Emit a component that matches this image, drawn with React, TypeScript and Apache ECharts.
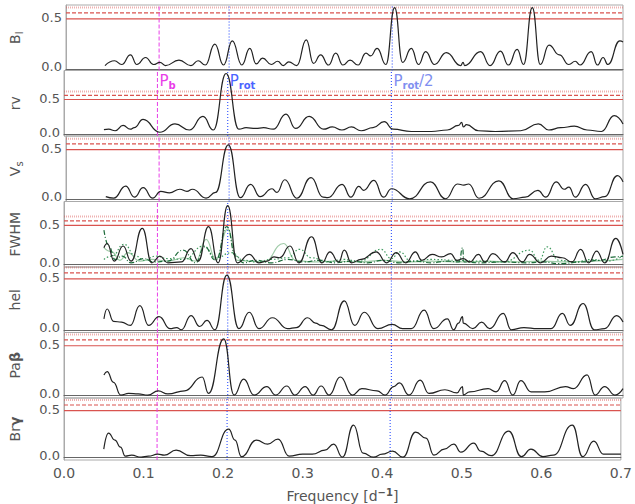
import React, { useEffect, useRef } from "react";
import * as echarts from "echarts";

// ---------- data ----------
const X_MIN = 0;
const X_MAX = 0.7;
const X_STEP = 0.1;
const Y_TICKS = [0, 0.5];
const FAP_LEVELS = [0.465, 0.52, 0.57]; // solid, dashed, dotted
const P_B = 0.117;
const P_ROT = 0.205;
const P_ROT_HALF = 0.41;

const PANEL_NAMES = ["{t|B}{sub|l}", "{t|rv}", "{t|V}{sub|s}", "{t|FWHM}", "{t|hel}", "{t|Pa}{b|β}", "{t|Br}{b|γ}"];
const PANEL_YMIN = [-0.016, -0.02, -0.026, -0.03, -0.025, -0.028, -0.028];
const PANEL_YMAX = [0.594, 0.85, 0.595, 0.75, 0.574, 0.59, 0.59];

const blPower = [
  [0.049, 0.03], [0.061, 0.075], [0.07, 0.04], [0.081, 0.13], [0.089, 0.04], [0.1, 0.105], [0.11, 0.04],
  [0.118, 0.06], [0.125, 0.03], [0.142, 0.08], [0.157, 0.03], [0.166, 0.075], [0.175, 0.035], [0.187, 0.23],
  [0.198, 0.035], [0.209, 0.26], [0.221, 0.035], [0.231, 0.19], [0.239, 0.045], [0.247, 0.1], [0.258, 0.04],
  [0.266, 0.07], [0.273, 0.03], [0.28, 0.065], [0.29, 0.03], [0.302, 0.27], [0.311, 0.05], [0.32, 0.13],
  [0.33, 0.035], [0.339, 0.145], [0.348, 0.035], [0.357, 0.08], [0.367, 0.035], [0.377, 0.145], [0.383, 0.12],
  [0.391, 0.19], [0.402, 0.04], [0.413, 0.57], [0.423, 0.06], [0.434, 0.19], [0.443, 0.04], [0.452, 0.16],
  [0.463, 0.04], [0.478, 0.15], [0.496, 0.03], [0.499, 0.06], [0.501, 0.03], [0.521, 0.16], [0.533, 0.03],
  [0.546, 0.165], [0.556, 0.035], [0.567, 0.18], [0.575, 0.04], [0.586, 0.57], [0.596, 0.04], [0.607, 0.22],
  [0.62, 0.13], [0.632, 0.04], [0.64, 0.07], [0.646, 0.035], [0.66, 0.16], [0.668, 0.035], [0.675, 0.105],
  [0.681, 0.04], [0.696, 0.26], [0.7, 0.25],
];

const rvPower = [
  [0.05, 0.064], [0.056, 0.07], [0.064, 0.05], [0.074, 0.12], [0.083, 0.07], [0.088, 0.09], [0.099, 0.2],
  [0.12, 0.03], [0.139, 0.14], [0.157, 0.06], [0.174, 0.24], [0.187, 0.06], [0.203, 0.81], [0.219, 0.07],
  [0.228, 0.09], [0.24, 0.08], [0.25, 0.09], [0.262, 0.07], [0.278, 0.27], [0.29, 0.08], [0.307, 0.24],
  [0.325, 0.07], [0.336, 0.1], [0.348, 0.06], [0.36, 0.1], [0.372, 0.05], [0.387, 0.09], [0.401, 0.17],
  [0.412, 0.07], [0.435, 0.04], [0.46, 0.04], [0.48, 0.06], [0.494, 0.12], [0.498, 0.16], [0.5, 0.1],
  [0.504, 0.13], [0.519, 0.05], [0.54, 0.04], [0.572, 0.05], [0.594, 0.14], [0.607, 0.06], [0.622, 0.09],
  [0.639, 0.11], [0.655, 0.06], [0.673, 0.04], [0.689, 0.25], [0.7, 0.14],
];

const vsPower = [
  [0.05, 0.02], [0.06, 0.006], [0.075, 0.12], [0.086, 0.015], [0.097, 0.105], [0.109, 0.006], [0.119, 0.07],
  [0.13, 0.055], [0.143, 0.09], [0.152, 0.07], [0.159, 0.09], [0.176, 0.006], [0.188, 0.06], [0.204, 0.51],
  [0.219, 0.01], [0.232, 0.137], [0.244, 0.02], [0.259, 0.095], [0.265, 0.06], [0.275, 0.18], [0.29, 0.005],
  [0.308, 0.2], [0.323, 0.015], [0.329, 0.01], [0.347, 0.137], [0.358, 0.015], [0.368, 0.118], [0.374, 0.08],
  [0.387, 0.175], [0.399, 0.015], [0.409, 0.095], [0.432, 0.0], [0.458, 0.16], [0.477, 0.0], [0.492, 0.14],
  [0.5, 0.13], [0.506, 0.14], [0.519, 0.005], [0.544, 0.17], [0.562, 0.0], [0.577, 0.015], [0.593, 0.08],
  [0.603, 0.015], [0.616, 0.16], [0.626, 0.09], [0.632, 0.11], [0.64, 0.015], [0.653, 0.137], [0.665, 0.0],
  [0.677, 0.02], [0.693, 0.22], [0.7, 0.16],
];

const fwhmPower = [
  [0.05, 0.2], [0.054, 0.25], [0.063, 0.04], [0.074, 0.22], [0.084, 0.04], [0.098, 0.43], [0.11, 0.02],
  [0.12, 0.1], [0.13, 0.02], [0.147, 0.03], [0.159, 0.19], [0.168, 0.04], [0.181, 0.45], [0.193, 0.02],
  [0.205, 0.7], [0.217, 0.02], [0.232, 0.12], [0.244, 0.02], [0.254, 0.04], [0.263, 0.09], [0.27, 0.08],
  [0.283, 0.22], [0.294, 0.02], [0.31, 0.33], [0.323, 0.02], [0.333, 0.15], [0.344, 0.03], [0.351, 0.17],
  [0.36, 0.02], [0.372, 0.06], [0.391, 0.15], [0.404, 0.02], [0.416, 0.14], [0.428, 0.02], [0.44, 0.15],
  [0.448, 0.05], [0.461, 0.12], [0.473, 0.09], [0.484, 0.13], [0.492, 0.05], [0.5, 0.07], [0.508, 0.03],
  [0.519, 0.12], [0.527, 0.03], [0.537, 0.13], [0.552, 0.03], [0.562, 0.14], [0.574, 0.03], [0.583, 0.12],
  [0.597, 0.02], [0.61, 0.1], [0.624, 0.08], [0.636, 0.03], [0.647, 0.18], [0.657, 0.02], [0.667, 0.16],
  [0.677, 0.02], [0.691, 0.31], [0.7, 0.12],
];

const fwhmGreenDashed = [
  [0.05, 0.41], [0.056, 0.22], [0.064, 0.06], [0.073, 0.1], [0.084, 0.02], [0.1, 0.07], [0.112, 0.03],
  [0.13, 0.04], [0.149, 0.17], [0.165, 0.02], [0.176, 0.21], [0.19, 0.05], [0.204, 0.45], [0.215, 0.1],
  [0.225, 0.02], [0.24, 0.05], [0.26, 0.02], [0.28, 0.06], [0.3, 0.03], [0.32, 0.05], [0.34, 0.02],
  [0.36, 0.04], [0.38, 0.02], [0.4, 0.05], [0.42, 0.02], [0.44, 0.04], [0.46, 0.02], [0.48, 0.04],
  [0.495, 0.03], [0.499, 0.2], [0.501, 0.03], [0.52, 0.02], [0.55, 0.03], [0.58, 0.02], [0.6, 0.03],
  [0.62, 0.01], [0.65, 0.03], [0.67, 0.05], [0.69, 0.09], [0.7, 0.1],
];

const fwhmGreenDotted = [
  [0.05, 0.06], [0.06, 0.1], [0.075, 0.24], [0.09, 0.1], [0.1, 0.05], [0.115, 0.1], [0.13, 0.07],
  [0.15, 0.06], [0.175, 0.22], [0.19, 0.08], [0.21, 0.14], [0.225, 0.05], [0.24, 0.03], [0.26, 0.06],
  [0.28, 0.08], [0.295, 0.18], [0.31, 0.08], [0.33, 0.03], [0.35, 0.06], [0.37, 0.04], [0.397, 0.18],
  [0.41, 0.07], [0.42, 0.15], [0.435, 0.04], [0.46, 0.06], [0.49, 0.05], [0.52, 0.04], [0.55, 0.03],
  [0.583, 0.17], [0.595, 0.05], [0.605, 0.21], [0.62, 0.05], [0.64, 0.03], [0.66, 0.06], [0.68, 0.04],
  [0.7, 0.1],
];

const fwhmGreenLight = [
  [0.05, 0.2], [0.06, 0.15], [0.07, 0.05], [0.08, 0.14], [0.095, 0.04], [0.11, 0.06], [0.13, 0.04],
  [0.15, 0.08], [0.165, 0.04], [0.178, 0.3], [0.19, 0.06], [0.205, 0.42], [0.217, 0.05], [0.23, 0.04],
  [0.25, 0.03], [0.275, 0.25], [0.29, 0.05], [0.31, 0.03], [0.34, 0.04], [0.37, 0.03], [0.4, 0.05],
  [0.43, 0.03], [0.46, 0.04], [0.5, 0.03], [0.53, 0.04], [0.56, 0.03], [0.6, 0.04], [0.63, 0.03],
  [0.66, 0.04], [0.7, 0.06],
];

const helPower = [
  [0.05, 0.1], [0.054, 0.19], [0.062, 0.077], [0.072, 0.07], [0.083, 0.04], [0.095, 0.22], [0.106, 0.04],
  [0.119, 0.12], [0.133, 0.01], [0.141, 0.02], [0.147, 0.0], [0.159, 0.13], [0.17, 0.03], [0.179, 0.085],
  [0.189, 0.0], [0.204, 0.5], [0.219, 0.01], [0.232, 0.16], [0.244, 0.01], [0.261, 0.11], [0.28, 0.01],
  [0.291, 0.02], [0.305, 0.11], [0.315, 0.06], [0.322, 0.04], [0.335, 0.0], [0.351, 0.265], [0.364, 0.04],
  [0.376, 0.16], [0.393, 0.01], [0.411, 0.05], [0.424, 0.01], [0.435, 0.01], [0.451, 0.18], [0.463, 0.01],
  [0.48, 0.1], [0.488, 0.0], [0.494, 0.06], [0.499, 0.12], [0.5, 0.06], [0.512, 0.01], [0.523, 0.07],
  [0.533, 0.01], [0.55, 0.15], [0.56, 0.0], [0.576, 0.02], [0.593, 0.01], [0.61, 0.01], [0.624, 0.15],
  [0.634, 0.04], [0.65, 0.24], [0.664, 0.0], [0.677, 0.01], [0.692, 0.13], [0.7, 0.07],
];

const pabPower = [
  [0.05, 0.19], [0.054, 0.22], [0.062, 0.12], [0.071, 0.0], [0.081, 0.015], [0.093, 0.01], [0.105, 0.0],
  [0.118, 0.04], [0.13, 0.01], [0.151, 0.04], [0.173, 0.17], [0.181, 0.015], [0.2, 0.53], [0.213, 0.0],
  [0.225, 0.15], [0.238, 0.0], [0.254, 0.08], [0.265, 0.0], [0.279, 0.085], [0.289, 0.0], [0.302, 0.08],
  [0.312, 0.0], [0.322, 0.085], [0.332, 0.0], [0.346, 0.17], [0.361, 0.0], [0.373, 0.06], [0.392, 0.04],
  [0.402, 0.0], [0.413, 0.08], [0.42, 0.115], [0.432, 0.0], [0.446, 0.14], [0.457, 0.015], [0.477, 0.05],
  [0.492, 0.02], [0.499, 0.08], [0.5, 0.0], [0.508, 0.03], [0.531, 0.06], [0.541, 0.03], [0.552, 0.135],
  [0.562, 0.0], [0.572, 0.135], [0.585, 0.03], [0.602, 0.03], [0.628, 0.08], [0.638, 0.06], [0.655, 0.19],
  [0.665, 0.0], [0.677, 0.08], [0.69, 0.0], [0.7, 0.06],
];

const brgPower = [
  [0.05, 0.08], [0.056, 0.24], [0.064, 0.17], [0.071, 0.1], [0.077, 0.01], [0.085, 0.02], [0.097, 0.0],
  [0.106, 0.01], [0.118, 0.03], [0.126, 0.02], [0.141, 0.07], [0.159, 0.015], [0.172, 0.02], [0.186, 0.005],
  [0.207, 0.28], [0.215, 0.17], [0.223, 0.005], [0.242, 0.17], [0.256, 0.13], [0.269, 0.18], [0.283, 0.01],
  [0.3, 0.03], [0.312, 0.03], [0.328, 0.07], [0.339, 0.13], [0.35, 0.0], [0.364, 0.32], [0.376, 0.04],
  [0.389, 0.0], [0.4, 0.03], [0.413, 0.06], [0.426, 0.0], [0.442, 0.25], [0.455, 0.19], [0.465, 0.02],
  [0.478, 0.08], [0.49, 0.13], [0.499, 0.05], [0.515, 0.14], [0.524, 0.06], [0.537, 0.015], [0.559, 0.26],
  [0.575, 0.005], [0.587, 0.08], [0.602, 0.005], [0.615, 0.02], [0.639, 0.32], [0.652, 0.005], [0.666, 0.16],
  [0.678, 0.03], [0.7, 0.03],
];

const PANEL_DATA = [blPower, rvPower, vsPower, fwhmPower, helPower, pabPower, brgPower];

// ---------- style ----------
const FONT = "DejaVu Sans";
const TEXT_COLOR = "#555";
const RED = "#d9534f";
const RED_LIGHT = "rgba(217,83,79,0.45)";
const MAGENTA = "#e83ee8";
const BLUE = "#3c5cff";

const W = 635;
const H = 504;
const GRID_LEFT = 58;
const GRID_RIGHT = 12;
const GRID_TOP = 5;
const PANEL_H = 65.5;

const refLine = (i: number, data: number[][], color: string, width: number, type: any, z = 3) => ({
  type: "line",
  xAxisIndex: i,
  yAxisIndex: i,
  data,
  showSymbol: false,
  silent: true,
  z,
  lineStyle: { color, width, type },
  emphasis: { disabled: true },
});

export default function App() {
  const ref = useRef<HTMLDivElement>(null);

  useEffect(() => {
    if (!ref.current) return;
    const chart = echarts.init(ref.current, undefined, { renderer: "svg" });
    const n = PANEL_DATA.length;

    const grids: any[] = [];
    const xAxes: any[] = [];
    const yAxes: any[] = [];
    const series: any[] = [];

    for (let i = 0; i < n; i++) {
      const last = i === n - 1;
      const y0 = PANEL_YMIN[i];
      const y1 = PANEL_YMAX[i];
      grids.push({
        left: GRID_LEFT,
        right: GRID_RIGHT,
        top: GRID_TOP + i * PANEL_H,
        height: PANEL_H,
        show: true,
        borderColor: "#aaa",
        borderWidth: 1,
        backgroundColor: "transparent",
      });
      xAxes.push({
        type: "value",
        gridIndex: i,
        min: X_MIN,
        max: X_MAX,
        interval: X_STEP,
        axisLine: { show: true, lineStyle: { color: "#666", width: 1 } },
        axisTick: { show: false },
        splitLine: { show: false },
        axisLabel: {
          show: last,
          color: TEXT_COLOR,
          fontFamily: FONT,
          fontSize: 14,
          margin: 6,
          formatter: (v: number) => v.toFixed(1),
        },
        name: last ? "{a|Frequency [d}{sup|−1}{a|]}" : "",
        nameLocation: "middle",
        nameGap: 27,
        nameTextStyle: {
          rich: {
            a: { fontFamily: FONT, fontSize: 14, color: TEXT_COLOR },
            sup: { fontFamily: FONT, fontSize: 10, fontWeight: "bold", color: TEXT_COLOR, padding: [0, 0, 8, 0], verticalAlign: "bottom" },
          },
        },
      });
      yAxes.push({
        type: "value",
        gridIndex: i,
        min: y0,
        max: y1,
        axisLine: { show: true, lineStyle: { color: "#aaa" } },
        axisTick: { show: false, customValues: Y_TICKS },
        splitLine: { show: false },
        axisLabel: {
          customValues: Y_TICKS,
          color: TEXT_COLOR,
          fontFamily: FONT,
          fontSize: 13,
          margin: 4,
          formatter: (v: number) => (v < 0.25 ? "{lo|" + v.toFixed(1) + "}" : "{hi|" + v.toFixed(1) + "}"),
          rich: {
            lo: { fontFamily: FONT, fontSize: 13, color: TEXT_COLOR, lineHeight: 13, padding: [0, 0, 4, 0] },
            hi: { fontFamily: FONT, fontSize: 13, color: TEXT_COLOR, lineHeight: 13, padding: [4, 0, 0, 0] },
          },
        },
        name: PANEL_NAMES[i],
        nameLocation: "middle",
        nameRotate: 90,
        nameGap: 42,
        nameTextStyle: {
          rich: {
            t: { fontFamily: FONT, fontSize: 14, color: TEXT_COLOR },
            b: { fontFamily: FONT, fontSize: 14, fontWeight: "bold", color: TEXT_COLOR },
            sub: { fontFamily: FONT, fontSize: 10, color: TEXT_COLOR, padding: [8, 0, 0, 0], verticalAlign: "top" },
          },
        },
      });

      // false-alarm levels
      series.push(refLine(i, [[X_MIN, FAP_LEVELS[0]], [X_MAX, FAP_LEVELS[0]]], RED, 1.2, "solid"));
      series.push(refLine(i, [[X_MIN, FAP_LEVELS[1]], [X_MAX, FAP_LEVELS[1]]], RED, 1.2, [4, 2]));
      series.push(refLine(i, [[X_MIN, FAP_LEVELS[2]], [X_MAX, FAP_LEVELS[2]]], RED_LIGHT, 2, [1, 1]));
      // period markers
      series.push(refLine(i, [[P_B, y0], [P_B, y1]], MAGENTA, 1, [4, 2], 4));
      series.push(refLine(i, [[P_ROT, y0], [P_ROT, y1]], BLUE, 1.2, [1, 2], 4));
      series.push(refLine(i, [[P_ROT_HALF, y0], [P_ROT_HALF, y1]], BLUE, 1.2, [1, 2], 4));

      if (i === 3) {
        series.push({
          type: "line", xAxisIndex: i, yAxisIndex: i, data: fwhmGreenLight, showSymbol: false,
          smooth: 0.5, smoothMonotone: "x", silent: true, z: 4,
          lineStyle: { color: "#9fcba8", width: 1.2 },
        });
        series.push({
          type: "line", xAxisIndex: i, yAxisIndex: i, data: fwhmGreenDotted, showSymbol: false,
          smooth: 0.5, smoothMonotone: "x", silent: true, z: 4,
          lineStyle: { color: "#3f9a5e", width: 1.2, type: [1.5, 2] },
        });
        series.push({
          type: "line", xAxisIndex: i, yAxisIndex: i, data: fwhmGreenDashed, showSymbol: false,
          smooth: 0.5, smoothMonotone: "x", silent: true, z: 4,
          lineStyle: { color: "#1d6b3a", width: 1.2, type: [5, 2, 1, 2] },
        });
      }

      series.push({
        type: "line",
        xAxisIndex: i,
        yAxisIndex: i,
        data: PANEL_DATA[i],
        showSymbol: false,
        smooth: 0.5,
        smoothMonotone: "x",
        silent: true,
        z: 5,
        lineStyle: { color: "#222", width: 1.2 },
      });
    }

    chart.setOption({
      animation: false,
      textStyle: { fontFamily: FONT },
      grid: grids,
      xAxis: xAxes,
      yAxis: yAxes,
      series,
    });

    // period labels placed at the top of the rv panel, next to their lines
    const labelY = (chart.convertToPixel({ yAxisIndex: 1 } as any, PANEL_YMAX[1]) as number) + 1;
    const px = (v: number) => chart.convertToPixel({ xAxisIndex: 1 } as any, v) as number;
    const mk = (x: number, text: string, color: string) => ({
      type: "text",
      x: x + 2,
      y: labelY,
      silent: true,
      style: {
        text,
        fill: color,
        rich: {
          p: { fontFamily: FONT, fontSize: 15, fill: color, color },
          s: { fontFamily: FONT, fontSize: 10, fontWeight: "bold", fill: color, color, padding: [9, 0, 0, 0], verticalAlign: "top" },
        },
      },
      z: 100,
    });
    chart.setOption({
      graphic: [
        mk(px(P_B), "{p|P}{s|b}", MAGENTA),
        mk(px(P_ROT), "{p|P}{s|rot}", "#4a64ff"),
        mk(px(P_ROT_HALF), "{p|P}{s|rot}{p|/2}", "#7f8ff0"),
      ],
    });

    return () => chart.dispose();
  }, []);

  return (
    <div
      ref={ref}
      style={{ position: "fixed", left: 0, top: 0, width: W, height: H, background: "#fff" }}
    />
  );
}
